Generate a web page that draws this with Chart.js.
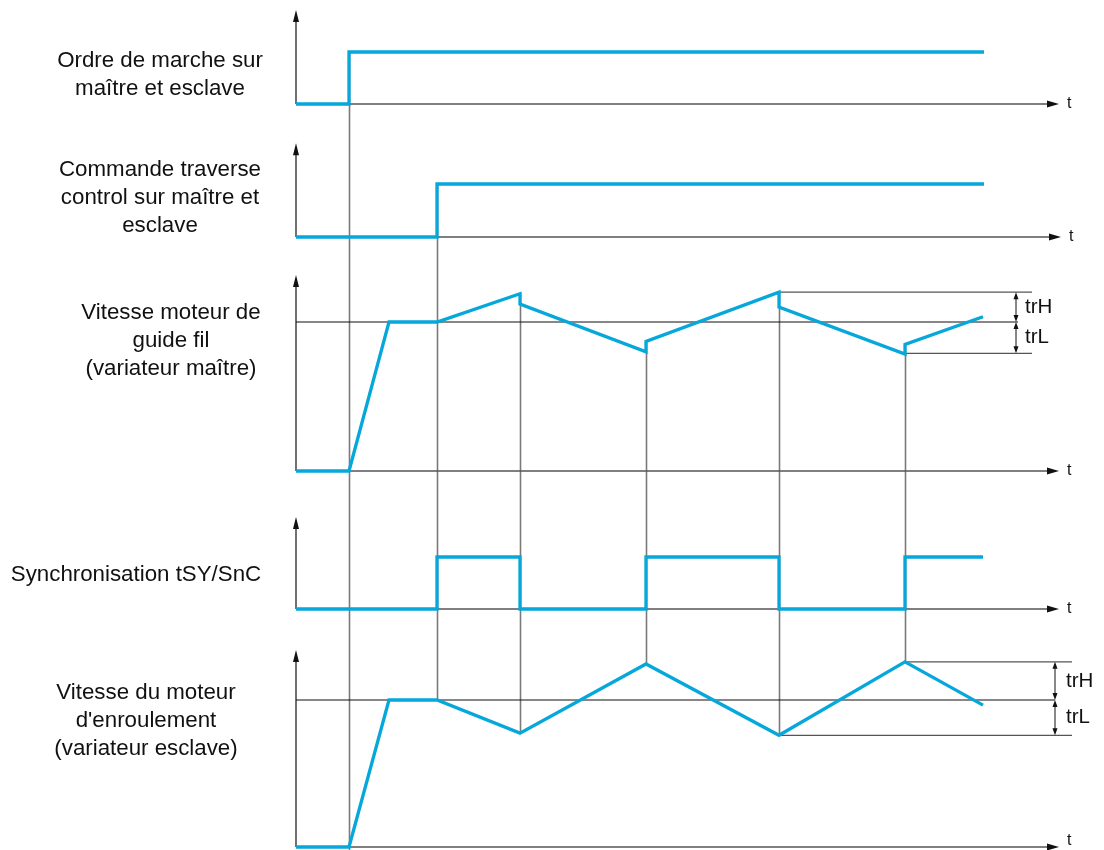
<!DOCTYPE html>
<html>
<head>
<meta charset="utf-8">
<script src="https://cdn.jsdelivr.net/npm/chart.js@4.4.1/dist/chart.umd.min.js"></script>
<style>
  html, body { margin: 0; padding: 0; background: #ffffff; }
  #wrap { position: relative; width: 1104px; height: 850px; }
</style>
</head>
<body>
<div id="wrap"><canvas id="timing" width="1104" height="850"></canvas></div>
<script>
// --- data (time in arbitrary units, speeds in % of nominal) ---
const runTimes = [0, 5.3, 5.3, 68.8];
const runLevel = [0, 0, 1, 1];

const traverseTimes = [0, 14.1, 14.1, 68.8];
const traverseLevel = [0, 0, 1, 1];

const masterTimes = [0, 5.3, 9.3, 14.1, 22.4, 22.4, 35.0, 35.0, 48.3, 48.3, 60.9, 60.9, 68.7];
const masterSpeed = [0, 0, 100, 100, 119, 112, 80, 87, 120, 110, 78.5, 85, 103.5];

const syncTimes = [0, 14.1, 14.1, 22.4, 22.4, 35.0, 35.0, 48.3, 48.3, 60.9, 60.9, 68.7];
const syncLevel = [0, 0, 1, 1, 0, 0, 1, 1, 0, 0, 1, 1];

const slaveTimes = [0, 5.3, 9.3, 14.1, 22.4, 35.0, 48.3, 60.9, 68.7];
const slaveSpeed = [0, 0, 100, 100, 77.5, 124.5, 76, 126, 96.5];

// trH / trL limits (upper, lower) around nominal 100 %
const bandLabels = ['trH', 'trL'];
const masterLimits = [120, 79];
const slaveLimits = [126, 76];

// vertical reference lines linking the events across the panels
const linkTimes = [5.3, 14.1, 22.4, 35.0, 48.3, 60.9];
const linkTop = [['yRun', 1], ['yTrav', 1], ['yMaster', 119], ['yMaster', 87], ['yMaster', 120], ['yMaster', 85]];
const linkBottom = [['ySlave', -2], ['ySlave', 100], ['ySlave', 77.5], ['ySlave', 124.5], ['ySlave', 76], ['ySlave', 126]];

const panelTitles = [
  ['Ordre de marche sur', 'maître et esclave'],
  ['Commande traverse', 'control sur maître et', 'esclave'],
  ['Vitesse moteur de', 'guide fil', '(variateur maître)'],
  ['Synchronisation tSY/SnC'],
  ['Vitesse du moteur', "d'enroulement", '(variateur esclave)']
];

// --- layout ---
const H = 850;
const SIGNAL = '#06a7da';
const FONT = '"Liberation Sans", Arial, sans-serif';
// base: pixel of value 0, k: pixels per unit, top: arrow tip (value), title: centre x, first line y
const PANELS = [
  { id: 'yRun', base: 104, k: 52, top: 1.81, tipX: 1059, titleX: 160, titleY: 61 },
  { id: 'yTrav', base: 237, k: 53, top: 1.77, tipX: 1061, titleX: 160, titleY: 170 },
  { id: 'yMaster', base: 471, k: 1.49, top: 131.5, tipX: 1059, titleX: 171, titleY: 313 },
  { id: 'ySync', base: 609, k: 52, top: 1.77, tipX: 1059, titleX: 136, titleY: 575 },
  { id: 'ySlave', base: 847, k: 1.47, top: 134, tipX: 1059, titleX: 146, titleY: 693 }
];

const scales = {
  x: { type: 'linear', display: false, min: -29.6, max: 80.8 }
};
PANELS.forEach(p => {
  scales[p.id] = { type: 'linear', display: false, min: (p.base - H) / p.k, max: p.base / p.k };
});

function series(times, values, axis, color, width, order) {
  return {
    data: times.map((t, i) => ({ x: t, y: values[i] })),
    yAxisID: axis,
    borderColor: color,
    borderWidth: width,
    pointRadius: 0,
    tension: 0,
    fill: false,
    order: order,
    borderJoinStyle: 'miter'
  };
}

const datasets = [
  series(runTimes, runLevel, 'yRun', SIGNAL, 3.3, 1),
  series(traverseTimes, traverseLevel, 'yTrav', SIGNAL, 3.3, 1),
  series(masterTimes, masterSpeed, 'yMaster', SIGNAL, 3.3, 1),
  series(syncTimes, syncLevel, 'ySync', SIGNAL, 3.3, 1),
  series(slaveTimes, slaveSpeed, 'ySlave', SIGNAL, 3.3, 1),
  // nominal speed lines
  series([0, 72.2], [100, 100], 'yMaster', '#111111', 1.2, 5),
  series([0, 75.9], [100, 100], 'ySlave', '#111111', 1.2, 5),
  // trH / trL limit lines
  series([48.3, 73.6], [masterLimits[0], masterLimits[0]], 'yMaster', '#555555', 1.3, 5),
  series([60.9, 73.6], [masterLimits[1], masterLimits[1]], 'yMaster', '#555555', 1.3, 5),
  series([60.9, 77.6], [slaveLimits[0], slaveLimits[0]], 'ySlave', '#555555', 1.3, 5),
  series([48.3, 77.6], [slaveLimits[1], slaveLimits[1]], 'ySlave', '#555555', 1.3, 5)
];

function arrowHead(ctx, x, y, dir, len, half) {
  ctx.beginPath();
  ctx.moveTo(x, y);
  if (dir === 'up') { ctx.lineTo(x - half, y + len); ctx.lineTo(x + half, y + len); }
  if (dir === 'down') { ctx.lineTo(x - half, y - len); ctx.lineTo(x + half, y - len); }
  if (dir === 'right') { ctx.lineTo(x - len, y - half); ctx.lineTo(x - len, y + half); }
  ctx.closePath();
  ctx.fill();
}

function dimension(ctx, x, y1, y2) {
  ctx.strokeStyle = '#111111';
  ctx.fillStyle = '#111111';
  ctx.lineWidth = 1;
  ctx.beginPath();
  ctx.moveTo(x, y1 + 5);
  ctx.lineTo(x, y2 - 5);
  ctx.stroke();
  arrowHead(ctx, x, y1, 'up', 7, 2.5);
  arrowHead(ctx, x, y2, 'down', 7, 2.5);
}

const diagramPlugin = {
  id: 'diagram',
  beforeDatasetsDraw(chart) {
    const ctx = chart.ctx;
    const sx = chart.scales.x;
    const x0 = sx.getPixelForValue(0);
    ctx.save();

    // links between panels
    ctx.strokeStyle = '#7a7a7a';
    ctx.lineWidth = 1.6;
    linkTimes.forEach((t, i) => {
      const x = Math.round(sx.getPixelForValue(t)) + 0.5;
      const yA = chart.scales[linkTop[i][0]].getPixelForValue(linkTop[i][1]);
      const yB = chart.scales[linkBottom[i][0]].getPixelForValue(linkBottom[i][1]);
      ctx.beginPath();
      ctx.moveTo(x, yA);
      ctx.lineTo(x, yB);
      ctx.stroke();
    });

    // axes
    PANELS.forEach(p => {
      const sy = chart.scales[p.id];
      const yb = sy.getPixelForValue(0);
      const yt = sy.getPixelForValue(p.top);
      ctx.strokeStyle = '#111111';
      ctx.fillStyle = '#111111';
      ctx.lineWidth = 1.2;
      ctx.beginPath();
      ctx.moveTo(x0, yb);
      ctx.lineTo(x0, yt + 8);
      ctx.stroke();
      arrowHead(ctx, x0, yt, 'up', 12, 3);

      ctx.strokeStyle = '#555555';
      ctx.lineWidth = 1.6;
      ctx.beginPath();
      ctx.moveTo(x0, yb);
      ctx.lineTo(p.tipX - 8, yb);
      ctx.stroke();
      ctx.fillStyle = '#111111';
      arrowHead(ctx, p.tipX, yb, 'right', 12, 3.5);

      ctx.font = '16px ' + FONT;
      ctx.textAlign = 'left';
      ctx.textBaseline = 'middle';
      ctx.fillText('t', p.tipX + 8, Math.min(yb, H - 9));
    });
    ctx.restore();
  },
  afterDraw(chart) {
    const ctx = chart.ctx;
    const sx = chart.scales.x;
    ctx.save();

    // dimension arrows for trH / trL
    const ym = chart.scales.yMaster;
    const xm = sx.getPixelForValue(72.0);
    dimension(ctx, xm, ym.getPixelForValue(masterLimits[0]), ym.getPixelForValue(100));
    dimension(ctx, xm, ym.getPixelForValue(100), ym.getPixelForValue(masterLimits[1]));
    const ys = chart.scales.ySlave;
    const xs = sx.getPixelForValue(75.9);
    dimension(ctx, xs, ys.getPixelForValue(slaveLimits[0]), ys.getPixelForValue(100));
    dimension(ctx, xs, ys.getPixelForValue(100), ys.getPixelForValue(slaveLimits[1]));

    ctx.fillStyle = '#111111';
    ctx.font = '20.5px ' + FONT;
    ctx.textAlign = 'left';
    ctx.textBaseline = 'middle';
    ctx.fillText(bandLabels[0], sx.getPixelForValue(72.9), (ym.getPixelForValue(masterLimits[0]) + ym.getPixelForValue(100)) / 2);
    ctx.fillText(bandLabels[1], sx.getPixelForValue(72.9), (ym.getPixelForValue(masterLimits[1]) + ym.getPixelForValue(100)) / 2);
    ctx.fillText(bandLabels[0], sx.getPixelForValue(77.0), (ys.getPixelForValue(slaveLimits[0]) + ys.getPixelForValue(100)) / 2);
    ctx.fillText(bandLabels[1], sx.getPixelForValue(77.0), (ys.getPixelForValue(slaveLimits[1]) + ys.getPixelForValue(100)) / 2);

    // panel titles
    ctx.font = '22.3px ' + FONT;
    ctx.textAlign = 'center';
    PANELS.forEach((p, i) => {
      panelTitles[i].forEach((line, j) => {
        ctx.fillText(line, p.titleX, p.titleY + j * 28);
      });
    });
    ctx.restore();
  }
};

new Chart(document.getElementById('timing'), {
  type: 'line',
  data: { datasets },
  options: {
    responsive: false,
    animation: false,
    layout: { padding: 0 },
    scales,
    plugins: {
      legend: { display: false },
      tooltip: { enabled: false }
    }
  },
  plugins: [diagramPlugin]
});
</script>
</body>
</html>
